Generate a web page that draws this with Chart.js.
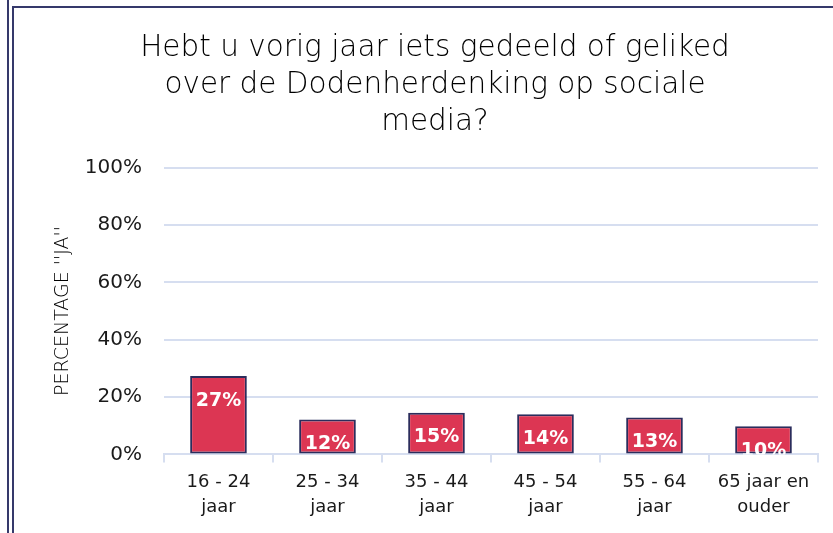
<!DOCTYPE html>
<html>
<head>
<meta charset="utf-8">
<script src="https://cdn.jsdelivr.net/npm/chart.js@4/dist/chart.umd.min.js"></script>
<style>
    html, body { margin: 0; padding: 0; background: #fff; }
    body { width: 833px; height: 533px; position: relative; overflow: hidden; }
    .frameOuter { position: absolute; left: 7px; top: 0; width: 2px; height: 533px; background: #35396b; }
    .frameInner { position: absolute; left: 12px; top: 6px; right: 0; bottom: -4px; border-left: 2px solid #35396b; border-top: 2px solid #35396b; }
    #chartBox { position: absolute; left: 16px; top: 8px; width: 817px; height: 525px; }
</style>
</head>
<body>
<div class="frameOuter"></div>
<div class="frameInner"></div>
<div id="chartBox"><canvas id="chartBars"></canvas></div>
<script>
const categories = [['16 - 24', 'jaar'], ['25 - 34', 'jaar'], ['35 - 44', 'jaar'], ['45 - 54', 'jaar'], ['55 - 64', 'jaar'], ['65 jaar en', 'ouder']];
const percentJa = [27.3, 12.2, 14.5, 14.0, 12.9, 9.8];
const barLabels = ['27%', '12%', '15%', '14%', '13%', '10%'];
const yTicks = [0, 20, 40, 60, 80, 100];

const fontName = "'DejaVu Sans', sans-serif";

// witte labels bovenin de staaf
const insideLabels = {
    id: 'insideLabels',
    afterDatasetsDraw(chart) {
        const ctx = chart.ctx;
        const area = chart.chartArea;
        const meta = chart.getDatasetMeta(0);
        ctx.save();
        ctx.beginPath();
        ctx.rect(area.left, area.top, area.right - area.left, area.bottom - area.top);
        ctx.clip();
        ctx.fillStyle = '#ffffff';
        ctx.font = 'bold 19px ' + fontName;
        ctx.textAlign = 'center';
        ctx.textBaseline = 'top';
        meta.data.forEach(function(bar, i) {
            ctx.fillText(barLabels[i], bar.x, bar.y + 15);
        });
        ctx.restore();
    }
};

new Chart(document.getElementById('chartBars'), {
    type: 'bar',
    data: {
        labels: categories,
        datasets: [{
            label: 'Percentage "ja"',
            data: percentJa,
            backgroundColor: '#dc3653',
            borderColor: '#2b2d5c',
            borderWidth: 2,
            borderSkipped: false,
            categoryPercentage: 1,
            barPercentage: 0.52
        }]
    },
    options: {
        responsive: true,
        maintainAspectRatio: false,
        animation: false,
        layout: { padding: { left: 36, right: 15, top: 22, bottom: 6 } },
        plugins: {
            legend: { display: false },
            tooltip: { enabled: false },
            title: {
                display: true,
                text: ['Hebt u vorig jaar iets gedeeld of geliked', 'over de Dodenherdenking op sociale', 'media?'],
                color: '#000000',
                font: { family: fontName, size: 29.5, weight: '200', lineHeight: 1.25 },
                padding: { top: 0, bottom: 27 }
            }
        },
        scales: {
            x: {
                grid: { offset: true, drawOnChartArea: false, color: '#d6def0', tickLength: 8, lineWidth: 2 },
                border: { color: '#d6def0', width: 2 },
                ticks: { color: '#1a1a1a', font: { family: fontName, size: 18, lineHeight: 1.35 }, maxRotation: 0, padding: 8 }
            },
            y: {
                min: 0,
                max: 100,
                afterBuildTicks: function(axis) {
                    axis.ticks = yTicks.map(function(v) { return { value: v }; });
                },
                grid: { color: '#d6def0', lineWidth: 2, drawTicks: false },
                border: { display: false },
                ticks: {
                    color: '#1a1a1a',
                    font: { family: fontName, size: 20 },
                    padding: 22,
                    callback: function(v) { return v + '%'; }
                },
                title: {
                    display: true,
                    text: "PERCENTAGE ''JA''",
                    color: '#000000',
                    font: { family: fontName, size: 19, weight: '200' },
                    padding: { top: 0, bottom: -12 }
                }
            }
        }
    },
    plugins: [insideLabels]
});
</script>
</body>
</html>
